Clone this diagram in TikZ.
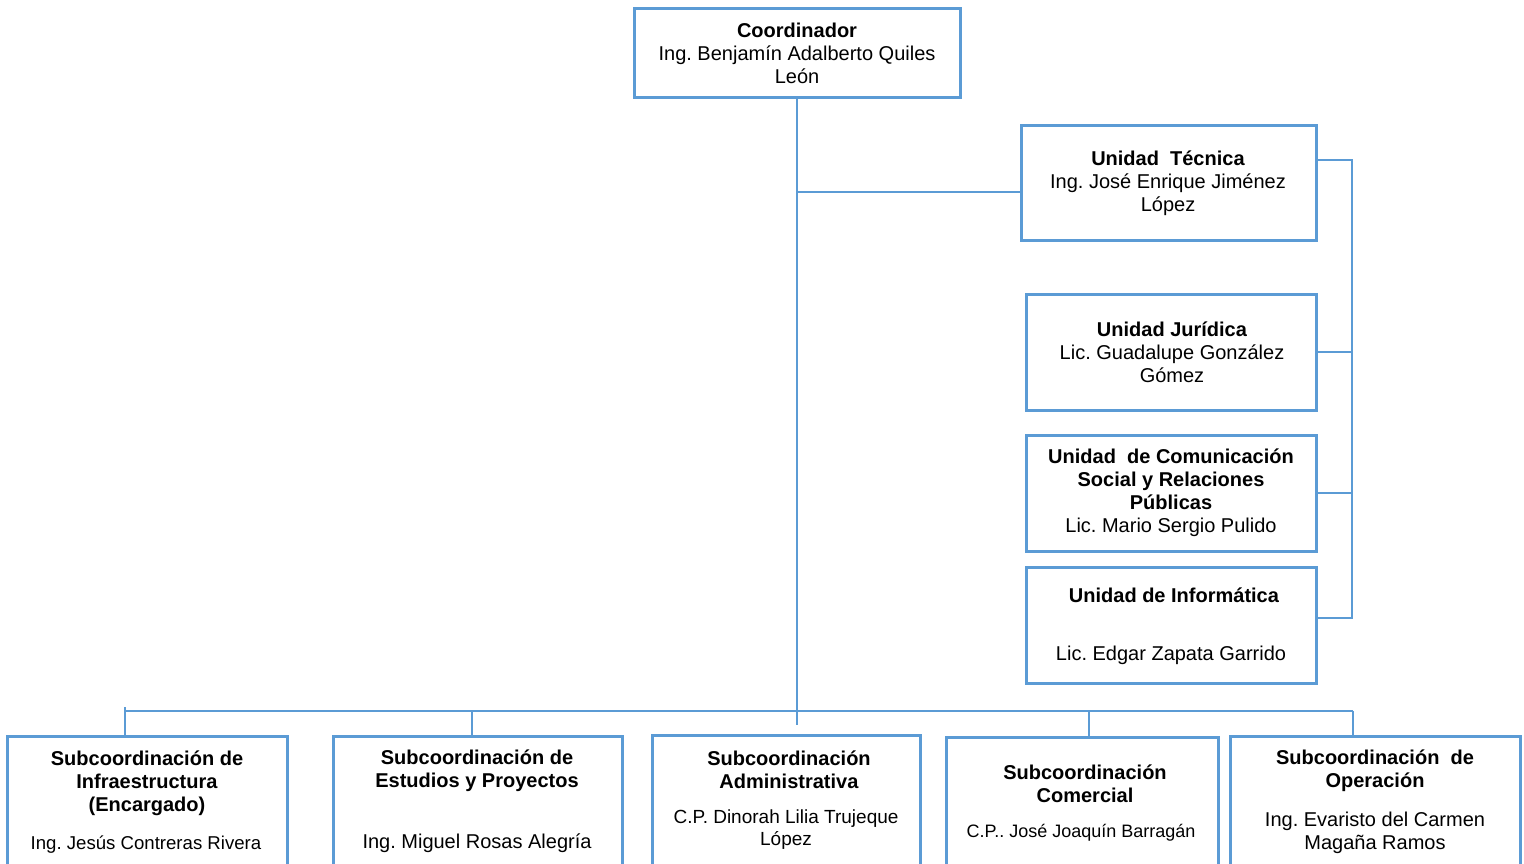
\documentclass[tikz,border=0pt]{standalone}
\usepackage{fontspec}
\setmainfont{Liberation Sans}
\frenchspacing
\definecolor{boxblue}{HTML}{5B9BD5}
\definecolor{lineblue}{HTML}{5B9BD5}
\begin{document}
\begin{tikzpicture}[x=0.5pt,y=-0.5pt,
  box/.style={draw=boxblue,line width=1.5pt,fill=white,rectangle,inner sep=0pt},
  conn/.style={draw=lineblue,line width=0.8pt},
  txt/.style={inner sep=0pt,align=center,font=\fontsize{10}{11.5}\selectfont},
  smalltxt/.style={inner sep=0pt,align=center,font=\fontsize{9.5}{11}\selectfont},
  tinytxt/.style={inner sep=0pt,align=center,font=\fontsize{9}{11}\selectfont},
  nametxt/.style={inner sep=0pt,align=center,font=\fontsize{9.3}{11}\selectfont}]
\clip (0,0) rectangle (1524,863);
\fill[white] (0,0) rectangle (1524,863);
% coordinates
\coordinate (mainend) at (797,725);
\coordinate (j1) at (797,192);
\coordinate (r1) at (1352,160);
\coordinate (r4) at (1352,618);
\coordinate (b1) at (125,711);
\coordinate (b2) at (472,711);
\coordinate (b4) at (1089,711);
\coordinate (b5) at (1353,711);
% boxes
\node[box,minimum width=163pt,minimum height=44.5pt] (coord) at (797,52.5) {};
\node[box,minimum width=147.5pt,minimum height=57.5pt] (tec) at (1168.5,182.5) {};
\node[box,minimum width=145pt,minimum height=58pt] (jur) at (1171,352) {};
\node[box,minimum width=145pt,minimum height=58pt] (com) at (1171,493) {};
\node[box,minimum width=145pt,minimum height=58pt] (inf) at (1171,625) {};
\node[box,minimum width=140pt,minimum height=95pt] (infra) at (147,831) {};
\node[box,minimum width=144.5pt,minimum height=95pt] (est) at (477.5,831) {};
\node[box,minimum width=134pt,minimum height=95pt] (adm) at (786,830) {};
\node[box,minimum width=136pt,minimum height=95pt] (comr) at (1082,832) {};
\node[box,minimum width=145pt,minimum height=95pt] (ope) at (1375,831) {};
% lines
\draw[conn] (coord.south) -- (mainend);
\draw[conn] (j1) -- (j1 -| tec.west);
\draw[conn] (r1 -| tec.east) -- (r1) -- (r4) -- (r4 -| inf.east);
\draw[conn] (jur.east) -- (jur.east -| r1);
\draw[conn] (com.east) -- (com.east -| r1);
\draw[conn] (b1) -- (b5);
\draw[conn] ([yshift=2pt]b1) -- (b1 |- infra.north);
\draw[conn] (b2) -- (b2 |- est.north);
\draw[conn] (b4) -- (b4 |- comr.north);
\draw[conn] (b5) -- (b5 |- ope.north);
% texts
\node[txt] (tcoord) at (797,53.5) {\textbf{Coordinador}\\Ing. Benjamín Adalberto Quiles\\León};
\node[txt] (ttec) at (1168,183) {\textbf{Unidad\ \ Técnica}\\Ing. José Enrique Jiménez\\López};
\node[txt] (tjur) at (1172,352) {\textbf{Unidad Jurídica}\\Lic. Guadalupe González\\Gómez};
\node[txt] (tcom) at (1171,492.5) {\textbf{Unidad\ \ de Comunicación}\\\textbf{Social y Relaciones}\\\textbf{Públicas}\\Lic. Mario Sergio Pulido};
\node[txt] (tinf1) at (1174,595) {\textbf{Unidad de Informática}};
\node[txt] (tinf2) at (1171,655) {Lic. Edgar Zapata Garrido};
\node[txt] (tinfra1) at (147,783) {\textbf{Subcoordinación de}\\\textbf{Infraestructura}\\\textbf{(Encargado)}};
\node[nametxt] (tinfra2) at (146,845) {Ing. Jesús Contreras Rivera};
\node[txt] (test1) at (477,770.5) {\textbf{Subcoordinación de}\\\textbf{Estudios y Proyectos}};
\node[txt] (test2) at (477,843) {Ing. Miguel Rosas Alegría};
\node[txt] (tadm1) at (789,769.5) {\textbf{Subcoordinación}\\\textbf{Administrativa}};
\node[smalltxt] (tadm2) at (786,830) {C.P. Dinorah Lilia Trujeque\\López};
\node[txt] (tcomr1) at (1085,783.5) {\textbf{Subcoordinación}\\\textbf{Comercial}};
\node[tinytxt] (tcomr2) at (1081,833) {C.P.. José Joaquín Barragán};
\node[txt] (tope1) at (1375,770.5) {\textbf{Subcoordinación\ \ de}\\\textbf{Operación}};
\node[txt] (tope2) at (1375,832.5) {Ing. Evaristo del Carmen\\Magaña Ramos};
\end{tikzpicture}
\end{document}
